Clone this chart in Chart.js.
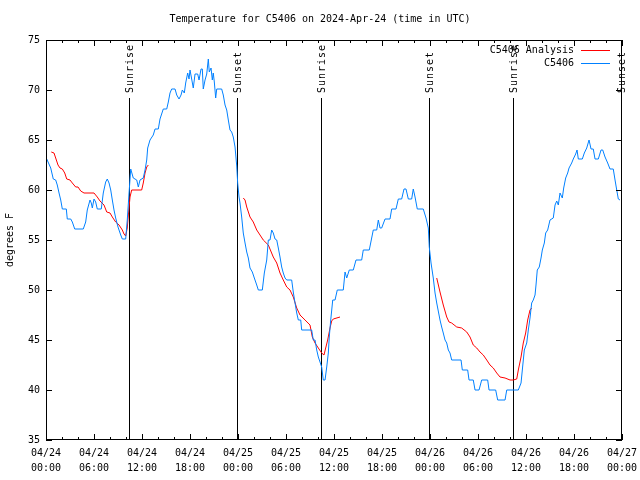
<!DOCTYPE html>
<html>
<head>
<meta charset="utf-8">
<title>Temperature for C5406</title>
<style>
    html, body { margin: 0; padding: 0; background: #fff; }
</style>
<script src="https://cdn.jsdelivr.net/npm/chart.js@4.4.1/dist/chart.umd.min.js"></script>
</head>
<body>
<canvas id="myChart" width="640" height="480"></canvas>
<script>
// hours since 2024-04-24 00:00 UTC
const blueHours = [
    0.09, 0.59, 0.91, 1.21, 1.41, 1.63, 1.84, 2.04, 2.54, 2.66,
    3.09, 3.29, 3.59, 4.66, 4.96, 5.16, 5.5, 5.66, 5.79, 6.0,
    6.21, 6.41, 6.91, 7.16, 7.46, 7.66, 7.88, 8.09, 8.29, 8.5,
    8.71, 9.0, 9.34, 9.54, 9.96, 10.16, 10.38, 10.59, 10.91, 11.34,
    11.54, 11.75, 12.16, 12.38, 12.59, 12.71, 13.0, 13.41, 13.63, 14.04,
    14.25, 14.66, 15.09, 15.29, 15.5, 15.71, 16.13, 16.34, 16.63, 16.88,
    17.04, 17.29, 17.46, 17.71, 17.88, 18.0, 18.21, 18.41, 18.63, 18.96,
    19.13, 19.38, 19.54, 19.66, 19.88, 20.09, 20.29, 20.41, 20.63, 20.79,
    20.91, 21.04, 21.21, 21.34, 21.96, 22.16, 22.38, 22.59, 22.79, 23.0,
    23.21, 23.41, 23.63, 23.84, 23.96, 24.13, 24.25, 24.46, 24.66, 24.88,
    25.09, 25.29, 25.5, 25.79, 26.04, 26.34, 26.54, 27.04, 27.29, 27.59,
    27.79, 28.0, 28.21, 28.41, 28.63, 28.84, 29.04, 29.25, 29.46, 29.66,
    29.88, 30.09, 30.71, 30.91, 31.13, 31.34, 31.54, 31.84, 31.96, 33.21,
    33.41, 33.63, 33.84, 34.04, 34.25, 34.46, 34.66, 34.88, 35.09, 35.29,
    35.41, 35.59, 35.84, 36.13, 36.41, 37.16, 37.38, 37.59, 37.91, 38.41,
    38.75, 39.46, 39.66, 40.41, 40.71, 40.91, 41.34, 41.54, 41.75, 41.96,
    42.38, 43.0, 43.21, 43.75, 44.04, 44.46, 44.75, 45.0, 45.29, 45.71,
    45.91, 46.13, 46.41, 47.16, 47.5, 47.79, 47.91, 48.13, 48.41, 48.63,
    48.84, 49.25, 49.46, 49.66, 49.88, 50.09, 50.29, 50.5, 50.71, 51.88,
    52.04, 52.71, 52.88, 53.41, 53.63, 54.13, 54.46, 55.21, 55.38, 56.21,
    56.46, 57.38, 57.59, 59.04, 59.38, 59.54, 59.79, 60.09, 60.29, 60.5,
    60.71, 60.91, 61.13, 61.25, 61.41, 61.66, 61.88, 62.04, 62.29, 62.46,
    62.71, 63.0, 63.41, 63.63, 63.84, 64.04, 64.25, 64.54, 64.71, 64.96,
    65.21, 65.38, 65.71, 65.91, 66.21, 66.38, 66.54, 67.04, 67.29, 67.59,
    67.88, 68.13, 68.41, 68.63, 69.04, 69.38, 69.59, 69.88, 70.21, 70.5,
    70.91, 71.13, 71.34, 71.54, 71.75
];
const blueTemps = [
    63.1, 62.2, 61.1, 61.0, 60.5, 59.7, 59.0, 58.1, 58.1, 57.1,
    57.1, 56.8, 56.1, 56.1, 56.8, 58.0, 59.0, 58.7, 58.2, 59.1,
    58.8, 58.1, 58.1, 59.7, 60.8, 61.1, 60.7, 60.0, 59.0, 58.0,
    57.2, 56.3, 55.5, 55.1, 55.1, 57.0, 59.7, 62.1, 61.2, 61.0,
    60.3, 61.0, 61.2, 62.0, 63.0, 64.2, 65.0, 65.5, 66.1, 66.1,
    67.1, 68.1, 68.1, 68.8, 69.7, 70.1, 70.1, 69.5, 69.1, 69.5,
    70.0, 69.7, 70.7, 71.7, 71.1, 72.0, 71.1, 70.2, 71.6, 71.6,
    71.0, 72.1, 72.1, 70.1, 71.0, 71.6, 73.1, 71.8, 72.2, 71.0,
    71.7, 70.8, 69.2, 70.1, 70.1, 69.5, 68.5, 68.0, 67.0, 66.0,
    65.8, 65.3, 64.3, 62.4, 60.7, 59.3, 58.7, 57.3, 55.7, 54.7,
    53.8, 53.2, 52.2, 51.8, 51.2, 50.5, 50.0, 50.0, 51.7, 53.0,
    55.0, 55.0, 56.0, 55.7, 55.1, 55.0, 54.2, 53.3, 52.3, 51.7,
    51.2, 51.0, 51.0, 49.8, 48.7, 47.7, 47.0, 47.0, 46.0, 46.0,
    45.0, 45.0, 44.0, 43.3, 42.8, 42.3, 41.0, 41.0, 42.3, 43.7,
    45.3, 47.0, 49.0, 49.0, 50.0, 50.0, 51.8, 51.2, 52.0, 52.0,
    53.0, 53.0, 54.0, 54.0, 55.2, 56.0, 56.0, 57.0, 56.2, 56.2,
    57.1, 57.1, 58.1, 58.1, 59.1, 59.1, 60.1, 60.1, 59.1, 59.1,
    60.1, 59.3, 58.1, 58.1, 57.2, 56.2, 54.3, 52.7, 51.2, 49.7,
    48.7, 47.0, 46.3, 45.7, 45.0, 44.7, 44.0, 43.7, 43.0, 43.0,
    42.0, 42.0, 41.0, 41.0, 40.0, 40.0, 41.0, 41.0, 40.0, 40.0,
    39.0, 39.0, 40.0, 40.0, 40.7, 42.0, 44.0, 44.7, 46.0, 47.2,
    48.7, 49.0, 49.5, 50.5, 52.0, 52.3, 53.2, 54.0, 54.7, 55.7,
    56.0, 57.0, 57.2, 58.5, 58.9, 58.5, 59.7, 59.2, 60.2, 61.2,
    61.7, 62.2, 62.7, 63.1, 63.6, 64.0, 63.1, 63.1, 63.7, 64.2,
    65.0, 64.1, 64.1, 63.1, 63.1, 64.0, 64.0, 63.3, 62.7, 62.1,
    62.1, 61.0, 60.0, 59.1, 59.0
];

// analysis series, null = no analysis (gap)
const redHours = [
    0.66, 1.0, 1.21, 1.5, 1.75, 2.04, 2.34, 2.59, 3.0, 3.29,
    3.71, 4.0, 4.34, 4.75, 6.0, 6.41, 6.75, 7.25, 7.59, 8.0,
    8.29, 8.71, 9.13, 9.54, 9.75, 9.96, 10.16, 10.25, 10.5, 10.71,
    11.96, 12.16, 12.38, 12.59, 12.79, 13.5, 24.66, 24.88, 25.09, 25.5,
    25.91, 26.34, 26.75, 27.16, 27.79, 28.41, 28.84, 29.25, 29.66, 30.09,
    30.5, 30.91, 31.34, 31.75, 32.38, 33.0, 33.29, 33.63, 34.04, 34.46,
    34.75, 34.96, 35.21, 35.5, 35.71, 35.91, 36.75, 40.0, 48.84, 49.25,
    49.66, 50.09, 50.38, 50.71, 51.34, 51.96, 52.59, 53.0, 53.41, 53.84,
    54.25, 54.66, 55.09, 55.5, 55.91, 56.34, 56.75, 57.38, 58.0, 58.41,
    58.84, 59.04, 59.38, 59.66, 59.96, 60.21, 60.5, 60.71
];
const redTemps = [
    63.8, 63.7, 63.2, 62.5, 62.2, 62.1, 61.7, 61.1, 61.0, 60.7,
    60.3, 60.3, 59.9, 59.7, 59.7, 59.3, 58.9, 58.5, 57.8, 57.7,
    57.3, 56.8, 56.5, 56.0, 55.6, 55.4, 56.2, 57.1, 59.3, 60.0,
    60.0, 60.7, 61.7, 62.3, 62.5, null, 59.2, 59.0, 58.3, 57.3,
    56.8, 56.0, 55.5, 55.0, 54.5, 53.3, 52.7, 51.7, 51.0, 50.3,
    50.0, 49.3, 48.2, 47.5, 47.0, 46.5, 45.3, 44.7, 44.2, 43.7,
    43.5, 44.2, 45.0, 46.2, 46.9, 47.1, 47.3, null, 51.2, 49.8,
    48.5, 47.3, 46.8, 46.7, 46.3, 46.2, 45.8, 45.3, 44.5, 44.2,
    43.8, 43.5, 43.0, 42.5, 42.2, 41.7, 41.3, 41.2, 41.0, 41.0,
    41.1, 42.0, 43.3, 44.7, 45.7, 47.0, 48.0, 48.2
];

const sunHours = [10.38, 23.88, 34.38, 47.88, 58.38, 71.88];
const sunLabels = ['Sunrise', 'Sunset', 'Sunrise', 'Sunset', 'Sunrise', 'Sunset'];

const titleText = 'Temperature for C5406 on 2024-Apr-24 (time in UTC)';
const yTitle = 'degrees F';
const monthLabel = '04';
const startDay = 24;

const FONT = "10px 'DejaVu Sans Mono', 'Liberation Mono', monospace";

function toPoints(hours, temps) {
    return hours.map((h, i) => ({ x: h, y: temps[i] }));
}

// gnuplot look: inward ticks, border, sunrise/sunset markers, key, titles
const gnuplotDecor = {
    id: 'gnuplotDecor',
    beforeDatasetsDraw(chart) {
        const { ctx, chartArea: a, scales: { x } } = chart;
        ctx.save();
        ctx.strokeStyle = '#000';
        ctx.lineWidth = 1;
        ctx.fillStyle = '#000';
        ctx.font = FONT;
        sunHours.forEach((h, i) => {
            const px = Math.round(x.getPixelForValue(h)) + 0.5;
            ctx.beginPath();
            ctx.moveTo(px, a.top + 58);
            ctx.lineTo(px, a.bottom);
            ctx.stroke();

            ctx.save();
            ctx.translate(px + 1, a.top + 53);
            ctx.rotate(-Math.PI / 2);
            ctx.letterSpacing = '1px';
            ctx.textAlign = 'left';
            ctx.textBaseline = 'middle';
            ctx.fillText(sunLabels[i], 0, 0);
            ctx.restore();
        });
        ctx.restore();
    },
    afterDatasetsDraw(chart) {
        const { ctx, chartArea: a, scales: { x, y } } = chart;
        ctx.save();
        ctx.strokeStyle = '#000';
        ctx.lineWidth = 1;

        // border
        ctx.strokeRect(a.left + 0.5, a.top + 0.5, a.right - a.left - 1, a.bottom - a.top - 1);

        // x ticks, major every 6 h, minor every 2 h, mirrored on top
        ctx.beginPath();
        for (let h = x.min; h <= x.max; h += 2) {
            const px = Math.round(x.getPixelForValue(h)) + 0.5;
            const len = h % 6 === 0 ? 6 : 3;
            ctx.moveTo(px, a.bottom);
            ctx.lineTo(px, a.bottom - len);
            ctx.moveTo(px, a.top);
            ctx.lineTo(px, a.top + len);
        }
        // y ticks, mirrored on right
        y.ticks.forEach(t => {
            const py = Math.round(y.getPixelForValue(t.value)) + 0.5;
            ctx.moveTo(a.left, py);
            ctx.lineTo(a.left + 6, py);
            ctx.moveTo(a.right, py);
            ctx.lineTo(a.right - 6, py);
        });
        ctx.stroke();

        // key (top right, text right-aligned, sample to the right)
        ctx.font = FONT;
        ctx.fillStyle = '#000';
        ctx.textAlign = 'right';
        ctx.textBaseline = 'middle';
        chart.data.datasets.forEach((ds, i) => {
            const ky = a.top + 10 + i * 13;
            ctx.fillText(ds.label, a.right - 48, ky);
            ctx.strokeStyle = ds.borderColor;
            ctx.beginPath();
            ctx.moveTo(a.right - 41, ky + 0.5);
            ctx.lineTo(a.right - 12, ky + 0.5);
            ctx.stroke();
        });

        // title and y-axis label
        ctx.textAlign = 'center';
        ctx.fillText(titleText, chart.width / 2, 19);
        ctx.save();
        ctx.translate(10, (a.top + a.bottom) / 2);
        ctx.rotate(-Math.PI / 2);
        ctx.fillText(yTitle, 0, 0);
        ctx.restore();

        ctx.restore();
    }
};

document.addEventListener('DOMContentLoaded', function () {
    const ctx = document.getElementById('myChart').getContext('2d');

    Chart.defaults.font.family = "'DejaVu Sans Mono', 'Liberation Mono', monospace";
    Chart.defaults.font.size = 10;
    Chart.defaults.color = '#000';

    new Chart(ctx, {
        type: 'line',
        data: {
            datasets: [{
                label: 'C5406 Analysis',
                data: toPoints(redHours, redTemps),
                borderColor: '#ff0000',
                borderWidth: 1,
                pointRadius: 0,
                tension: 0,
                spanGaps: false,
                order: 2
            }, {
                label: 'C5406',
                data: toPoints(blueHours, blueTemps),
                borderColor: '#0080ff',
                borderWidth: 1,
                pointRadius: 0,
                tension: 0,
                order: 1
            }]
        },
        options: {
            responsive: false,
            animation: false,
            layout: { padding: { left: 0, right: 18, top: 40, bottom: 0 } },
            plugins: {
                legend: { display: false },
                tooltip: { enabled: false }
            },
            scales: {
                x: {
                    type: 'linear',
                    min: 0,
                    max: 72,
                    grid: { display: false, drawTicks: false },
                    border: { display: false },
                    ticks: {
                        stepSize: 6,
                        padding: 6,
                        maxRotation: 0,
                        autoSkip: false,
                        font: { lineHeight: 1.5 },
                        callback: function (v) {
                            const day = startDay + Math.floor(v / 24);
                            const hr = String(v % 24).padStart(2, '0');
                            return [monthLabel + '/' + day, hr + ':00'];
                        }
                    },
                    afterFit: function (scale) {
                        scale.height = 40;
                        scale.paddingLeft = 0;
                        scale.paddingRight = 0;
                    }
                },
                y: {
                    min: 35,
                    max: 75,
                    grid: { display: false, drawTicks: false },
                    border: { display: false },
                    ticks: { stepSize: 5, padding: 6 },
                    afterFit: function (scale) {
                        scale.width = 46;
                        scale.paddingTop = 0;
                        scale.paddingBottom = 0;
                    }
                }
            }
        },
        plugins: [gnuplotDecor]
    });
});
</script>
</body>
</html>
